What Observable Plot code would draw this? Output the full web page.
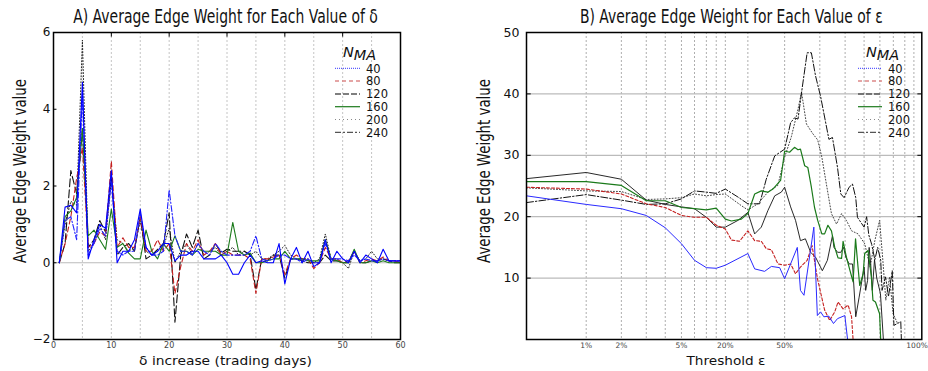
<!DOCTYPE html>
<html><head><meta charset="utf-8">
<script src="https://cdn.jsdelivr.net/npm/d3@7"></script>
<script src="https://cdn.jsdelivr.net/npm/@observablehq/plot@0.6"></script>
<style>
body{margin:0;background:#fff;}
#wrap{position:relative;width:928px;height:371px;overflow:hidden;font-family:"DejaVu Sans",sans-serif;}
#a,#b{position:absolute;top:0;}
#a{left:0}#b{left:464px}
#ov{position:absolute;left:0;top:0;pointer-events:none}
</style></head><body>
<div id="wrap"><div id="a"></div><div id="b"></div><svg id="ov" width="928" height="371"></svg></div>
<script>
// ---------- Panel A data: delta increase (trading days) ----------
const deltaDays = [1,2,3,4,5,6,7,8,9,10,11,12,13,14,15,16,17,18,19,20,21,22,23,24,25,26,27,28,29,30,
  31,32,33,34,35,36,37,38,39,40,41,42,43,44,45,46,47,48,49,50,51,52,53,54,55,56,57,58,59,60];
const a40  = [0,1.45,1.5,1.3,4.7,0.1,0.6,1.0,0.9,2.4,0.0,0.3,0.3,0.6,1.4,0.4,0.2,0.3,0.5,0.5,0.05,0.2,0.2,0.3,0.3,0.1,0.1,0.1,0.2,0.0,-0.3,-0.3,0.0,0.2,0.0,0.05,0.0,0.0,0.5,-0.55,0.1,0.4,0.0,0.3,-0.1,0.0,0.6,0.0,0.3,0.1,0.0,0.3,0.0,0.2,0.1,0.0,0.35,0.05,0.05,0.05];
const a80  = [0,0.5,1.2,2.2,3.0,0.4,0.5,0.8,0.7,2.65,0.4,0.65,0.4,0.4,1.2,0.3,0.3,0.6,0.3,0.5,-0.8,-0.1,0.5,0.3,0.6,0.2,0.3,0.5,0.2,0.3,0.2,0.2,0.2,0.1,-0.8,0.1,0.1,0.15,0.2,-0.3,0.1,0.2,0.1,0.1,-0.15,0.0,0.4,0.1,0.1,0.0,0.05,0.3,0.0,0.05,0.1,0.05,0.15,0.05,0.05,0.0];
const a120 = [0,0.5,2.4,1.8,3.5,0.4,0.6,1.1,0.8,2.3,0.2,0.4,0.5,0.3,1.2,0.1,0.2,0.35,0.5,1.3,-1.55,0.2,0.75,0.4,0.85,0.1,0.2,0.5,0.25,0.35,0.3,0.3,0.3,0.2,-0.7,0.1,0.05,0.2,0.2,-0.4,0.1,0.1,0.05,0.0,0.0,0.0,0.2,0.05,0.05,0.0,0.0,0.3,0.0,0.0,0.05,0.05,0.1,0.05,0.0,0.0];
const a160 = [0,1.2,1.35,1.7,3.5,0.7,0.85,0.6,0.35,1.4,0.4,0.5,0.25,0.1,0.1,0.85,0.3,0.1,0.5,0.3,0.7,0.3,0.3,0.2,0.35,0.3,0.3,0.3,0.2,0.2,1.05,0.3,0.2,0.25,0.0,0.0,0.05,0.1,0.1,0.3,0.1,0.1,0.1,0.05,0.05,0.05,0.6,0.1,0.05,0.0,0.0,0.35,0.0,0.0,0.05,0.0,0.05,0.0,0.0,0.0];
const a200 = [0,1.0,1.6,1.5,5.8,0.3,0.5,1.0,0.6,2.2,0.6,0.5,0.3,0.4,1.1,0.3,0.2,0.3,0.4,0.9,0.0,0.3,0.5,0.2,0.5,0.2,0.3,0.4,0.2,0.3,0.4,0.2,0.3,0.2,0.3,0.1,0.1,0.2,0.3,0.45,0.2,0.1,0.1,0.1,0.0,0.1,0.75,0.1,0.1,0.0,-0.15,0.3,0.05,0.1,0.3,0.1,0.1,0.05,0.05,0.0];
const a240 = [0,1.1,1.2,0.6,4.4,0.2,0.5,0.9,0.7,2.1,0.3,0.2,0.3,0.3,1.3,0.4,0.2,0.2,0.3,1.9,0.7,0.3,0.3,0.2,0.5,0.3,0.2,0.5,0.3,0.2,0.2,0.2,0.2,0.3,0.7,0.1,0.05,0.1,0.2,0.2,0.1,0.1,0.0,0.1,0.0,0.0,0.5,0.1,0.1,0.1,0.05,0.2,0.05,0.1,0.05,0.05,0.1,0.05,0.05,0.05];

// ---------- Panel B data: threshold epsilon (%) ----------
const b40Eps = [0.5,1,2,3,4,5,10,15,18,20,30,33.7,39.1,42.8,47.3,50,53.6,54.5,55.5,58.3,59.3,60.3,61.6,63.6,65.4,67,69.9,71.3,85];
const b40Val = [23.4,22.0,21.3,20.2,18.2,15.6,12.9,11.7,11.6,12.1,14.0,11.5,11.1,11.9,11.7,9.9,15.0,8.0,7.2,18.3,3.9,4.5,3.7,3.8,2.6,3.4,3.9,0,0];
const b80Eps = [0.5,1,2,3,4,5,10,15,18,20,22.7,26.3,30,33.7,37.3,40,42.8,46.4,50,51.7,53.1,54.5,56.4,57.8,59.3,61.9,63.9,65.9,67.2,69.2,71.6,73.4,74.2,85];
const b80Val = [24.8,24.5,23.7,22.1,21.5,20.2,19.9,19.9,18.6,18.0,16.2,16.0,17.7,16.1,16.0,14.8,14.6,12.3,12.1,12.3,10.7,11.8,12.9,15.3,10.0,4.8,3.1,4.5,6.1,5.0,5.6,3.7,0,0];
const b120Eps = [0.5,1,2,3,4,5,10,15,18,20,25.6,30,33.7,37.3,40.9,44.6,48.2,50,51.7,53.1,54.5,55.9,57.4,58.8,61,63,65,65.6,67,68.3,69.4,70.4,72.1,73.9,75.6,77.4,78.8,80,80.5,81.1,81.6,82.1,82.6,83.3,84,85.2,86.3];
const b120Val = [26.2,27.2,26.1,22.7,22.0,21.6,21.3,19.9,18.3,18.3,19.4,20.7,17.2,18.3,21.0,23.4,24.0,24.8,21.6,19.4,16.1,16.4,14.2,13.4,11.2,12.9,16.9,15.0,14.2,14.2,15.0,13.4,12.3,12.3,3.7,6.9,9.5,11.8,8.0,9.6,15.0,12.3,8.0,13.0,10.0,7.5,0];
const b160Eps = [0.5,1,2,3,4,5,10,15,18,20,22.7,27.1,30,33.7,37.3,40.9,43.6,47.8,50,51.4,52.8,53.8,54.5,55.7,56.6,57.6,58.5,59.4,60.8,61.9,63.2,64.6,65.9,67.2,68.6,69.2,70.7,72.5,74.2,75.5,76.8,77.7,79.5,80.2,81.25,82.3,82.8,83.6,84.9,85.3,92.8];
const b160Val = [25.7,25.7,25.1,22.6,22.6,21.5,21.3,21.1,21.4,19.6,19.3,19.6,20.5,23.7,24.2,24.0,24.5,25.9,30.7,30.5,31.3,30.9,31.0,28.3,28.0,24.8,21.5,19.4,17.2,17.2,18.6,17.7,15.0,13.3,13.2,16.0,13.4,11.3,9.4,16.4,11.8,8.8,10.7,14.0,14.5,10.2,6.4,6.1,4.2,0,0];
const b200Eps = [0.5,1,2,3,4,5,10,15,18,20,27.1,30,35.4,40.9,46.3,50,51.9,53.8,54.8,56.2,57.9,59.4,60.8,62.6,64.6,66.6,68.6,70.7,73.4,76.8,80.2,81.9,83.4,84.9,86.1,87.2,88.6,89.9,91.6];
const b200Val = [24.7,24.2,24.1,22.8,22.9,23.1,23.7,23.4,23.6,23.7,21.8,21.1,22.1,24.0,25.1,29.7,33.0,37.5,40.3,35.1,33.6,32.5,29.7,25.3,20.5,18.8,20.5,19.4,17.7,17.2,15.6,11.8,16.1,19.4,12.9,6.4,10.2,4.2,2.5];
const b240Eps = [0.5,1,2,3,4,5,10,15,18,20,25.6,30,36.4,40,44.6,50,51.7,52.8,53.8,55,56.4,57.6,58.8,60.3,63.6,65,67,68.3,69.6,72.1,73.9,75.6,76.5,80,80.8,81.5,82.4,83.4,84.3,85.3,85.8,87.1,88.2,89.6,90.2,92.6,92.8];
const b240Val = [22.3,23.6,22.7,22.0,22.1,22.9,24.2,24.0,23.8,24.5,23.2,22.1,22.1,26.1,29.9,31.0,35.3,36.1,35.9,41.0,46.7,46.7,42.9,39.6,32.6,32.9,28.0,23.7,23.1,24.8,25.3,23.1,19.9,18.3,20.0,17.0,15.5,13.0,15.0,12.9,8.0,10.2,7.0,11.2,2.3,2.9,0];

// tick/grid values
const aXTicks = [0,10,20,30,40,50,60];
const aXGrid = [5,10,15,20,25,30,35,40,45,50,55];
const aYTicks = [-2,0,2,4,6];
const bGrid = [1,2,3,4,5,10,15,18,20,30,50,60,70,80,85,90,94,97];
const bXTicks = [1,2,5,20,50,100];
const bYTicks = [10,20,30,40,50];
const legendLabels = ["40","80","120","160","200","240"];

// ---------- Panel A ----------
const stylesA = [
  {vals:a200, stroke:"#222", dash:"1,2", w:1},
  {vals:a120, stroke:"#111", dash:"8,3", w:1.1},
  {vals:a80,  stroke:"#c42020", dash:"5,3", w:1.1},
  {vals:a160, stroke:"#1b7a1b", dash:null, w:1.1},
  {vals:a240, stroke:"#2020ff", dash:"6,2,1.5,2", w:1.1},
  {vals:a40,  stroke:"#0000ff", dash:null, w:1.1}
];
const linesA = stylesA.map(s => Plot.line(deltaDays.map((d,i)=>({d, v:s.vals[i]})),
  {x:"d", y:"v", stroke:s.stroke, strokeWidth:s.w, strokeDasharray:s.dash||undefined}));

const plotA = Plot.plot({
  width:464, height:371, marginLeft:53, marginRight:64, marginTop:32, marginBottom:32,
  style:{fontFamily:"DejaVu Sans", background:"#fff"},
  x:{domain:[0,60]}, y:{domain:[-2,6]},
  marks:[
    Plot.ruleX(aXGrid, {stroke:"#b5b5b5", strokeWidth:0.8, strokeDasharray:"2,2"}),
    Plot.ruleY([0], {stroke:"#bbb", strokeWidth:1.2}),
    ...linesA,
    Plot.ruleX([10,20,30,40,50], {y1:6, y2:5.88, stroke:"#000"}),
    Plot.ruleY([0,2,4], {x1:0, x2:0.6, stroke:"#000"}),
    Plot.frame({stroke:"#000", strokeWidth:1.5}),
    Plot.axisX({ticks:aXTicks, tickSize:0, tickPadding:3, fontSize:8, fill:"#444", label:null}),
    Plot.axisY({ticks:aYTicks, tickSize:0, tickPadding:3, fontSize:12, fill:"#111", label:null})
  ]
});
document.getElementById("a").appendChild(plotA);

// ---------- Panel B: warped threshold axis ----------
// The threshold axis is non-uniform: a piecewise-linear warp maps epsilon (%) to axis units 0..1.
const warpBreaks = [0.5,1,2,3,4,5,10,15,18,20,30,50,60,70,80,85,90,94,97,100];
const warpUnits  = [0,0.151,0.240,0.303,0.351,0.392,0.425,0.455,0.480,0.503,0.560,0.653,0.742,0.806,0.854,0.894,0.928,0.957,0.980,1];
const warp = d3.scaleLinear().domain(warpBreaks).range(warpUnits);
const tickLabel = new Map(bXTicks.map(t => [warp(t), t + "%"]));

const bSeries = [
  {e:b200Eps, v:b200Val, stroke:"#444", dash:"1,2", w:1},
  {e:b240Eps, v:b240Val, stroke:"#111", dash:"7,2,1.5,2", w:1},
  {e:b120Eps, v:b120Val, stroke:"#111", dash:null, w:0.9},
  {e:b80Eps,  v:b80Val,  stroke:"#c42020", dash:"3,2", w:1.1},
  {e:b40Eps,  v:b40Val,  stroke:"#2a2aff", dash:null, w:1},
  {e:b160Eps, v:b160Val, stroke:"#1b7a1b", dash:null, w:1.2}
];
const linesB = bSeries.map(s => Plot.line(s.e.map((e,i)=>({e, v:s.v[i]})),
  {x:d => warp(d.e), y:"v", stroke:s.stroke, strokeWidth:s.w, strokeDasharray:s.dash||undefined, clip:true}));

const plotB = Plot.plot({
  width:464, height:371, marginLeft:62, marginRight:6.7, marginTop:32, marginBottom:32,
  style:{fontFamily:"DejaVu Sans", background:"#fff"},
  x:{domain:[0,1]},
  y:{domain:[0,50]},
  marks:[
    Plot.ruleX(bGrid.map(warp), {stroke:"#999", strokeWidth:0.8, strokeDasharray:"2,2"}),
    Plot.ruleY([10,20,30,40], {stroke:"#bbb", strokeWidth:1.2}),
    ...linesB,
    Plot.ruleY([10,20,30,40,50], {x1:0, x2:0.012, stroke:"#000"}),
    Plot.ruleY([10,20,30,40], {x1:0.99, x2:1, stroke:"#000"}),
    Plot.frame({stroke:"#000", strokeWidth:1.5}),
    Plot.axisX({ticks:bXTicks.slice(0,-1).map(warp), tickFormat:v => tickLabel.get(v), tickSize:0, tickPadding:3, fontSize:7.5, fill:"#444", label:null}),
    Plot.axisX({ticks:[warp(100)], tickFormat:v => tickLabel.get(v), tickSize:0, tickPadding:3, fontSize:7.5, fill:"#444", label:null, textAnchor:"end", dx:6}),
    Plot.axisY({ticks:bYTicks, tickSize:0, tickPadding:7, fontSize:12.5, fill:"#111", label:null})
  ]
});
document.getElementById("b").appendChild(plotB);

// ---------- Overlay texts & legends ----------
const ov = d3.select("#ov");
const fam = "DejaVu Sans";
// draw text, then squeeze horizontally (via transform) to the target width seen in the reference
function txt(x,y,s,opts={}){
  const g = ov.append("g");
  const t = g.append("text").attr("x",0).attr("y",0).text(s)
    .attr("font-family", fam).attr("font-size", opts.size||12)
    .attr("text-anchor","middle").attr("fill","#111");
  let sx = 1;
  if (opts.len) sx = opts.len / t.node().getComputedTextLength();
  g.attr("transform", `translate(${x},${y})` + (opts.rot ? " rotate(-90)" : "") + ` scale(${sx},1)`);
  return t;
}
txt(225.5, 22.5, "A) Average Edge Weight for Each Value of δ", {size:19.5, len:305});
txt(731.3, 22.5, "B) Average Edge Weight for Each Value of ε", {size:19.5, len:303});
txt(25.5, 171, "Average Edge Weight value", {size:18.5, len:184, rot:true});
txt(489.5, 171, "Average Edge Weight value", {size:18.5, len:184, rot:true});
txt(225.5, 365, "δ increase (trading days)", {size:11.5, len:173});
txt(726, 365, "Threshold ε", {size:11.5, len:79});

const legStyles = [
  {stroke:"#3333ff", dash:"1,1", w:1},
  {stroke:"#d88", dash:"4,3", w:1.5},
  {stroke:"#555", dash:"6,2", w:1.5},
  {stroke:"#1b7a1b", dash:null, w:1.2},
  {stroke:"#888", dash:"1,3", w:1},
  {stroke:"#555", dash:"6,2,2,2", w:1.3}
];
function legend(x0, x1, xt, xTitle){
  const tt = ov.append("text").attr("x", xTitle).attr("y", 57).attr("font-family", fam)
    .attr("font-size", 14.5).attr("font-style","italic").attr("fill","#111");
  tt.append("tspan").text("N");
  tt.append("tspan").attr("dy", 3).text("MA");
  legendLabels.forEach((lab,i)=>{
    const y = 68.3 + i*12.8;
    const s = legStyles[i];
    const ln = ov.append("line").attr("x1",x0).attr("x2",x1).attr("y1",y).attr("y2",y)
      .attr("stroke", s.stroke).attr("stroke-width", s.w);
    if (s.dash) ln.attr("stroke-dasharray", s.dash);
    ov.append("text").attr("x", xt).attr("y", y+4.2).text(lab).attr("font-family", fam)
      .attr("font-size", 11.5).attr("fill","#111");
  });
}
legend(335, 360, 366, 343);
legend(858, 882, 888, 866);
</script>
</body></html>
